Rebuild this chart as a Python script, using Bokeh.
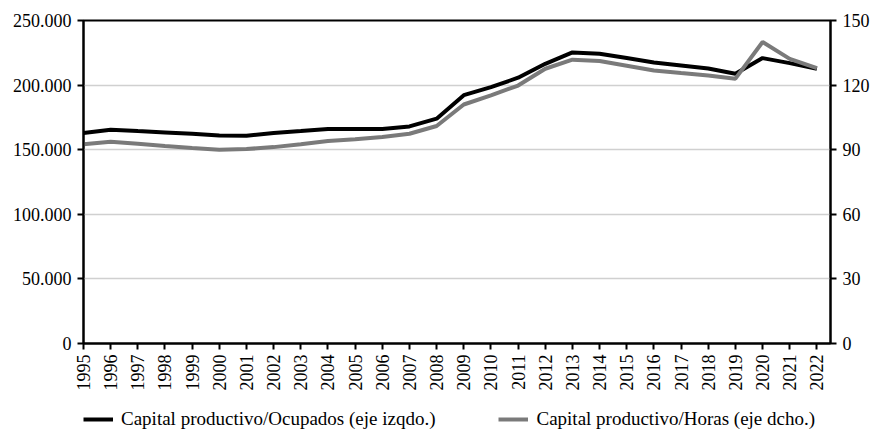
from bokeh.plotting import figure
from bokeh.models import Range1d, LinearAxis, FixedTicker, Legend, LegendItem
from bokeh.layouts import column
from bokeh.embed import file_html
from bokeh.resources import INLINE
import math

years = list(range(1995, 2023))
ocupados = [163.0, 165.5, 164.4, 163.4, 162.4, 161.0, 160.8, 162.9, 164.4, 166.0,
            166.0, 166.0, 168.0, 174.0, 192.2, 198.4, 205.7, 216.5, 225.3, 224.3,
            220.9, 217.5, 215.2, 212.9, 208.8, 220.9, 217.0, 212.6]
ocupados = [v * 1000 for v in ocupados]
horas = [92.5, 93.7, 92.8, 91.7, 90.8, 90.0, 90.3, 91.2, 92.5, 94.0,
         94.9, 95.9, 97.4, 101.0, 111.0, 115.2, 119.8, 127.6, 131.8, 131.2,
         129.0, 126.8, 125.6, 124.5, 123.0, 140.0, 132.2, 127.9]

left_ticks = [0, 50000, 100000, 150000, 200000, 250000]
left_labels = ["0", "50.000", "100.000", "150.000", "200.000", "250.000"]
right_ticks = [0, 30, 60, 90, 120, 150]

label_a = "Capital productivo/Ocupados (eje izqdo.)"
label_b = "Capital productivo/Horas (eje dcho.)"

FONT = "Liberation Serif"
FS = "18px"
BLACK = "black"
GREY = "#7a7a7a"

p = figure(frame_width=747, frame_height=323, output_backend="svg", toolbar_location=None,
           x_range=Range1d(1995, 2022.5), y_range=Range1d(0, 250000),
           min_border_left=83, min_border_right=40, min_border_top=20,
           min_border_bottom=55)
p.extra_y_ranges = {"right": Range1d(0, 150)}
p.background_fill_color = "white"
p.border_fill_color = "white"
p.outline_line_color = "black"
p.outline_line_width = 2

p.xgrid.visible = False
p.ygrid.ticker = FixedTicker(ticks=left_ticks)
p.ygrid.grid_line_color = "#d0d0d0"
p.ygrid.grid_line_width = 1.5

def style_axis(ax):
    ax.axis_line_color = "black"
    ax.axis_line_width = 2
    ax.major_tick_line_color = "black"
    ax.major_tick_line_width = 2
    ax.major_tick_out = 6
    ax.major_tick_in = 0
    ax.minor_tick_line_color = None
    ax.major_label_text_font = FONT
    ax.major_label_text_font_size = FS
    ax.major_label_text_color = "black"

ya = p.yaxis[0]
ya.ticker = FixedTicker(ticks=left_ticks)
ya.major_label_overrides = {t: l for t, l in zip(left_ticks, left_labels)}
ya.major_label_standoff = 6
style_axis(ya)

ra = LinearAxis(y_range_name="right", ticker=FixedTicker(ticks=right_ticks))
style_axis(ra)
ra.major_label_standoff = 6
p.add_layout(ra, "right")

xa = p.xaxis[0]
xa.ticker = FixedTicker(ticks=years)
xa.major_label_orientation = math.pi / 2
xa.major_label_standoff = 5
style_axis(xa)

p.line(years, ocupados, line_color=BLACK, line_width=4)
p.line(years, horas, line_color=GREY, line_width=4, y_range_name="right")

# legend strip (its lines carry the same data but lie outside its tiny ranges)
lg = figure(frame_width=747, frame_height=40, output_backend="svg", toolbar_location=None,
            x_range=Range1d(0, 1), y_range=Range1d(0, 1),
            min_border_left=83, min_border_right=40, min_border_top=0,
            min_border_bottom=0)
lg.axis.visible = False
lg.grid.visible = False
lg.outline_line_color = None
lg.background_fill_color = "white"
lg.border_fill_color = "white"
d1 = lg.line(years, ocupados, line_color=BLACK, line_width=4)
d2 = lg.line(years, horas, line_color=GREY, line_width=4)

legend = Legend(items=[LegendItem(label=label_a, renderers=[d1]),
                       LegendItem(label=label_b, renderers=[d2])],
                orientation="horizontal", location=(0, 8),
                label_text_font=FONT, label_text_font_size="19px",
                label_text_color="black", glyph_width=30, glyph_height=20,
                label_standoff=8, spacing=63, padding=0, margin=0,
                border_line_color=None, background_fill_color=None)
lg.add_layout(legend, "center")

layout = column(p, lg, spacing=0)
open("out.html", "w").write(file_html(layout, INLINE))
